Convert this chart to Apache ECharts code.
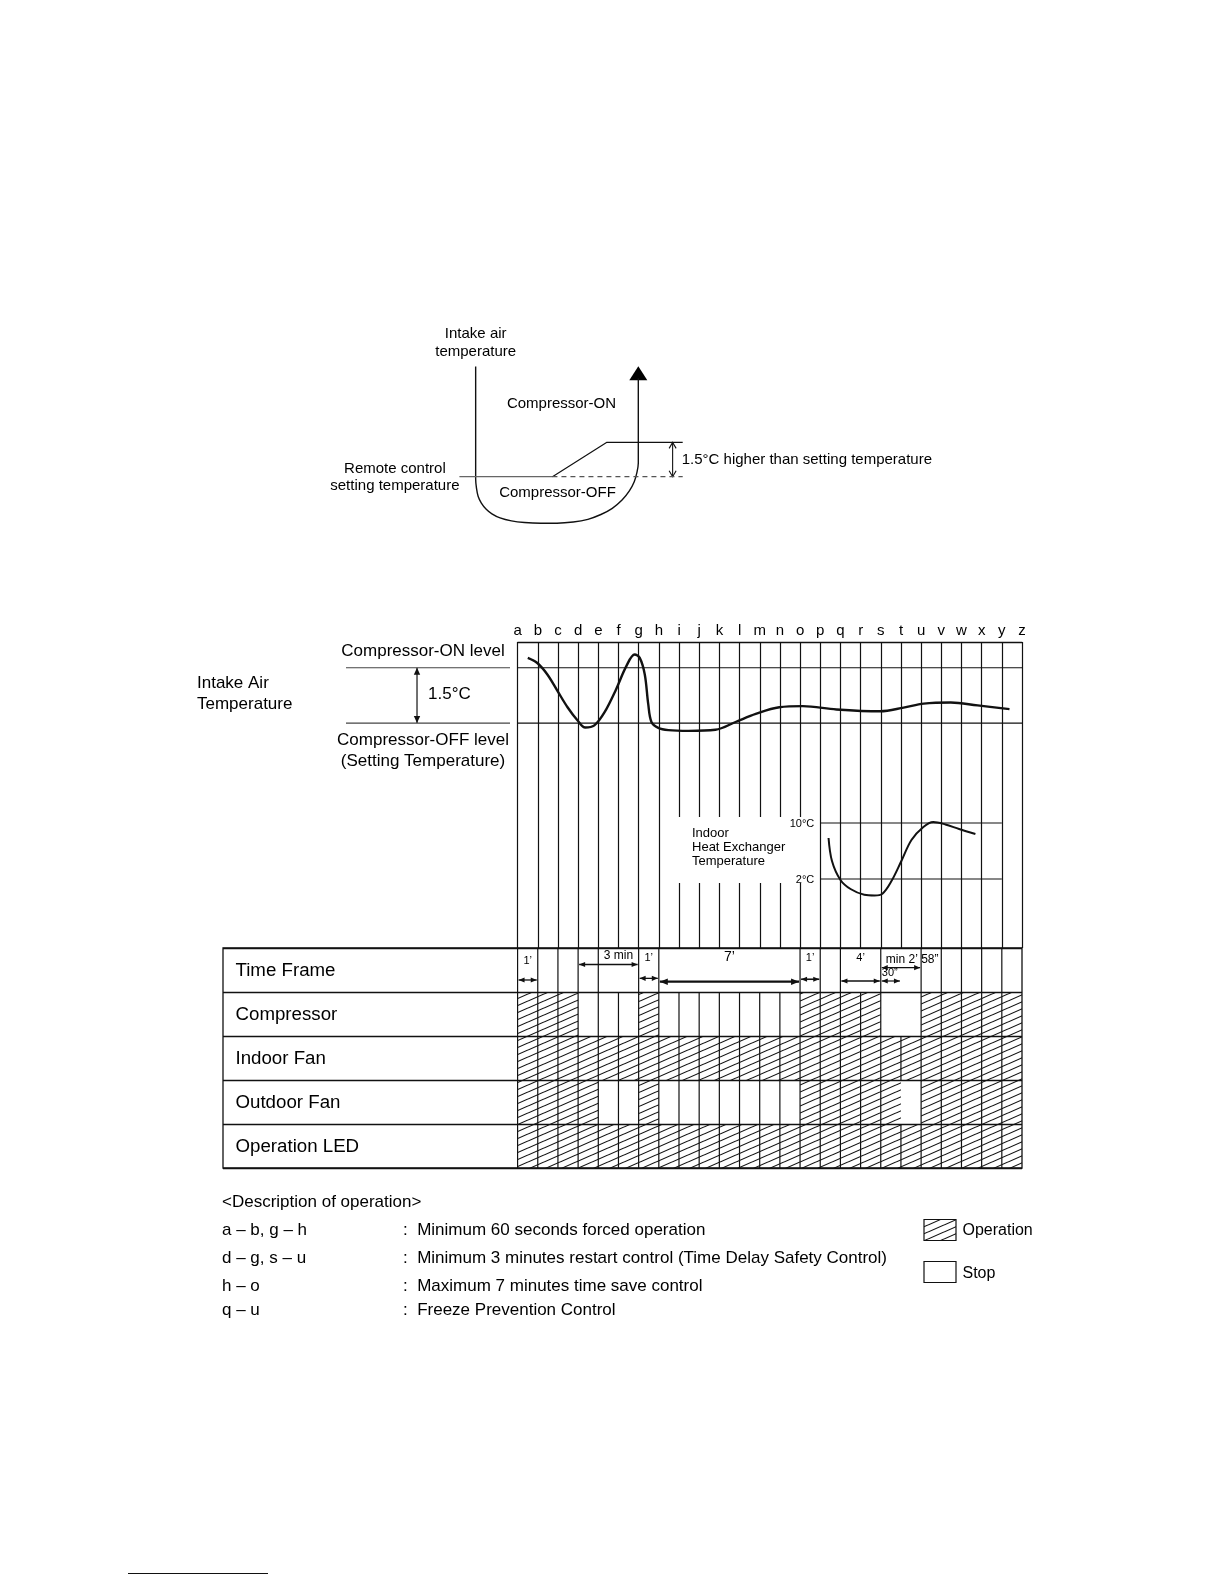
<!DOCTYPE html>
<html>
<head>
<meta charset="utf-8">
<title>Compressor operation timing</title>
<script src="https://cdn.jsdelivr.net/npm/echarts@6/dist/echarts.min.js"></script>
<style>
  html, body { margin: 0; padding: 0; background: #fff; }
  #chart { width: 1224px; height: 1584px; }
</style>
</head>
<body>
<div id="chart"></div>
<script>
const FONT = '"Liberation Sans", Arial, sans-serif';
const INK = '#111';

// ---- data ----
const letters = ['a','b','c','d','e','f','g','h','i','j','k','l','m','n','o','p','q','r','s','t','u','v','w','x','y','z'];

// intake air temperature, degC above setting temperature (x = letter steps from a)
const intakeX = [0.5, 0.97, 1.47, 1.97, 2.47, 2.97, 3.35, 3.8, 4.3, 4.88, 5.38, 5.8, 6.05, 6.3, 6.47, 6.63, 6.97, 7.47, 8.47, 9.8, 10.8, 11.8, 12.97, 14.13, 15.8, 17.97, 19.13, 20.13, 21.47, 22.8, 24.38];
const intakeT = [1.77, 1.63, 1.32, 0.875, 0.43, 0.07, -0.12, -0.06, 0.29, 0.92, 1.54, 1.86, 1.77, 1.32, 0.52, 0.03, -0.13, -0.19, -0.21, -0.18, 0.03, 0.25, 0.43, 0.46, 0.37, 0.32, 0.42, 0.53, 0.56, 0.48, 0.38];
const levelOn = 1.5;
const levelOff = 0;

// indoor heat exchanger temperature, degC
const hexX = [15.41, 15.58, 16.0, 16.5, 17.18, 17.69, 18.08, 18.53, 19.02, 19.52, 20.11, 20.6, 21.2, 21.88, 22.69];
const hexT = [7.86, 4.57, 1.86, 0.57, -0.25, -0.35, -0.1, 1.71, 4.57, 7.57, 9.43, 10.14, 9.79, 9.14, 8.43];
const hexLevels = [10, 2];
const hexLevelText = ['10°C', '2°C'];
const hexFrom = 15; // p
const hexTo = 24;   // y

// table rows: one flag per interval a-b ... y-z (1 = operation, 0 = stop)
const rowNames = ['Time Frame', 'Compressor', 'Indoor Fan', 'Outdoor Fan', 'Operation LED'];
const compressor   = [1,1,1,0,0,0,1,0,0,0,0,0,0,0,1,1,1,1,0,0,1,1,1,1,1];
const indoorFan    = [1,1,1,1,1,1,1,1,1,1,1,1,1,1,1,1,1,1,1,1,1,1,1,1,1];
const outdoorFan   = [1,1,1,1,0,0,1,0,0,0,0,0,0,0,1,1,1,1,1,0,1,1,1,1,1];
const operationLed = [1,1,1,1,1,1,1,1,1,1,1,1,1,1,1,1,1,1,1,1,1,1,1,1,1];
// letter lines that are not drawn inside each row
const lineGaps = [[5, 8, 9, 10, 11, 12, 13, 17, 19], [19], [], [19], []];

// time frame spans (letter index) and texts
const spanFrom = [0, 3, 6, 7, 14, 16, 18, 18];
const spanTo   = [1, 6, 7, 14, 15, 18, 20, 19];
const spanText = ['1’', '3 min', '1’', '7’', '1’', '4’', 'min 2’ 58”', '30”'];

// schematic: intake air temperature vs compressor state
const bowlX = [0, 0, 0.05, 0.15, 0.35, 0.65, 1.0, 1.5, 2.2, 3.0, 4.0, 5.0, 6.0, 6.9, 7.7, 8.4, 9.0, 9.45, 9.75, 9.92, 10, 10];
const bowlY = [4.81, -0.1, -0.5, -0.85, -1.15, -1.42, -1.62, -1.8, -1.93, -2.0, -2.03, -2.03, -1.98, -1.86, -1.65, -1.38, -1.02, -0.62, -0.22, 0.2, 0.6, 4.3];
const settingX = [-1, 4.72];
const riseX = [4.72, 8.07, 12.73];
const riseY = [0, 1.5, 1.5];
const dashX = [4.72, 12.73];

const descKeys = ['a – b, g – h', 'd – g, s – u', 'h – o', 'q – u'];
const descTexts = [
  'Minimum 60 seconds forced operation',
  'Minimum 3 minutes restart control (Time Delay Safety Control)',
  'Maximum 7 minutes time save control',
  'Freeze Prevention Control'
];

// ---- layout of the time frame labels ----
const spanArrowY = [0.727, 0.375, 0.69, 0.766, 0.71, 0.75, 0.448, 0.75];
const spanLabelX = [0.5, 5, 6.5, 10.5, 14.5, 17, 18.25, 18.05];
const spanLabelY = [0.3, 0.18, 0.235, 0.21, 0.235, 0.22, 0.26, 0.575];
const spanAlign = ['center', 'center', 'center', 'center', 'center', 'center', 'left', 'left'];
const spanFont = [11, 12, 11, 14, 11, 11, 12, 11];
const spanWidth = [1.3, 1.3, 1.3, 2.2, 1.6, 1.6, 1.2, 1.2];
const descY = [1230, 1258.4, 1286.7, 1310];

// hatch pattern for "operation"
function hatchCanvas() {
  const c = document.createElement('canvas');
  const w = 16, h = 7;
  c.width = w; c.height = h;
  const g = c.getContext('2d');
  g.strokeStyle = '#111';
  g.lineWidth = 1.1;
  for (let k = -1; k <= 1; k++) {
    g.beginPath();
    g.moveTo(0, h + k * h);
    g.lineTo(w, k * h);
    g.stroke();
  }
  return c;
}
const hatch = { image: hatchCanvas(), repeat: 'repeat' };

function arrowGroup(p1, p2, head, half, filled, width) {
  const dx = p2[0] - p1[0], dy = p2[1] - p1[1];
  const len = Math.hypot(dx, dy) || 1;
  const ux = dx / len, uy = dy / len, nx = -uy, ny = ux;
  const children = [{ type: 'line', shape: { x1: p1[0], y1: p1[1], x2: p2[0], y2: p2[1] }, style: { stroke: INK, lineWidth: width } }];
  [[p2, 1], [p1, -1]].forEach(function (e) {
    const p = e[0], s = e[1];
    const bx = p[0] - s * ux * head, by = p[1] - s * uy * head;
    const pts = [[bx + nx * half, by + ny * half], [p[0], p[1]], [bx - nx * half, by - ny * half]];
    children.push(filled
      ? { type: 'polygon', shape: { points: pts }, style: { fill: INK } }
      : { type: 'polyline', shape: { points: pts }, style: { stroke: INK, lineWidth: width, fill: null } });
  });
  return { type: 'group', children: children };
}

function pairs(xs, ys) { return xs.map(function (x, i) { return [x, ys[i]]; }); }

function plainLine(idx, data, extra) {
  return Object.assign({
    type: 'line', xAxisIndex: idx, yAxisIndex: idx, data: data,
    showSymbol: false, symbol: 'none', silent: true,
    lineStyle: { color: INK, width: 1.2 }
  }, extra || {});
}

function textSeries(idx, xs, ys, texts, styleOf, dx, dy) {
  return {
    type: 'custom', xAxisIndex: idx, yAxisIndex: idx, silent: true, z: 6,
    data: xs.map(function (x, i) { return [x, ys[i], i]; }),
    renderItem: function (params, api) {
      const i = api.value(2);
      const p = api.coord([api.value(0), api.value(1)]);
      return {
        type: 'text', x: p[0] + (dx || 0), y: p[1] + (dy || 0),
        style: Object.assign({ text: texts[i], fill: '#000', fontFamily: FONT }, styleOf(i))
      };
    }
  };
}

function label(text, x, y, size, align) {
  return { type: 'text', x: x, y: y, style: { text: text, fontSize: size, fontFamily: FONT, fill: '#000', align: align || 'left', verticalAlign: 'middle' } };
}

// ---- table series data ----
const rowFlags = [null, compressor, indoorFan, outdoorFan, operationLed];
const cellData = [];
rowFlags.forEach(function (flags, r) {
  if (!flags) return;
  flags.forEach(function (on, k) { if (on) cellData.push([k, r]); });
});
const lineData = [];
for (let r = 0; r < rowNames.length; r++) {
  for (let k = 0; k < letters.length - 1; k++) {
    if (lineGaps[r].indexOf(k) < 0) lineData.push([k, r]);
  }
}

const chart = echarts.init(document.getElementById('chart'), null, { renderer: 'canvas' });

const hidden = { show: false };
const option = {
  animation: false,
  backgroundColor: '#fff',
  grid: [
    { left: 459.4, top: 362.2, width: 227.7, height: 164.9 },   // schematic
    { left: 517.7, top: 642, width: 504.3, height: 306 },       // intake air temperature
    { left: 517.7, top: 802, width: 504.3, height: 98 },        // heat exchanger temperature
    { left: 346, top: 642, width: 164, height: 306 },           // level notes
    { left: 223, top: 948, width: 799, height: 220, show: true, borderColor: INK, borderWidth: 1.3 } // table
  ],
  xAxis: [
    { gridIndex: 0, type: 'value', min: -1, max: 13, show: false },
    {
      gridIndex: 1, type: 'value', min: 0, max: 25, interval: 1, position: 'top',
      axisLine: { show: true, onZero: false, lineStyle: { color: INK, width: 1.3 } },
      axisTick: { show: false },
      axisLabel: { formatter: function (v) { return letters[v] || ''; }, fontSize: 15, fontFamily: FONT, color: '#000', margin: 4, lineHeight: 15 },
      splitLine: { show: true, lineStyle: { color: INK, width: 1.2 } }
    },
    { gridIndex: 2, type: 'value', min: 0, max: 25, show: false },
    { gridIndex: 3, type: 'value', min: 0, max: 1, show: false },
    { gridIndex: 4, type: 'value', min: -14.6, max: 25, show: false }
  ],
  yAxis: [
    { gridIndex: 0, type: 'value', min: -2.2, max: 5, show: false },
    { gridIndex: 1, type: 'value', min: -6.1, max: 2.2, show: false },
    { gridIndex: 2, type: 'value', min: -1, max: 13, show: false },
    { gridIndex: 3, type: 'value', min: -6.1, max: 2.2, show: false },
    {
      gridIndex: 4, type: 'value', min: 0, max: 5, interval: 1, inverse: true,
      axisLine: hidden, axisTick: hidden, axisLabel: hidden,
      splitLine: { show: true, lineStyle: { color: INK, width: 1.3 } }
    }
  ],
  series: [
    // schematic
    plainLine(0, pairs(bowlX, bowlY), { smooth: 0.25, lineStyle: { color: INK, width: 1.4 } }),
    {
      type: 'scatter', xAxisIndex: 0, yAxisIndex: 0, silent: true,
      data: [[10, 4.52]], symbol: 'triangle', symbolSize: [18, 14],
      itemStyle: { color: '#000', opacity: 1 }
    },
    plainLine(0, pairs(settingX, [0, 0]), { lineStyle: { color: '#666', width: 1.3 } }),
    plainLine(0, pairs(riseX, riseY), { lineStyle: { color: INK, width: 1.2 } }),
    plainLine(0, pairs(dashX, [0, 0]), { lineStyle: { color: '#555', width: 1.2, type: [5, 4] } }),
    {
      type: 'custom', xAxisIndex: 0, yAxisIndex: 0, silent: true,
      data: [[12.11, 0, 12.11, 1.5]],
      renderItem: function (params, api) {
        return arrowGroup(api.coord([api.value(0), api.value(1)]), api.coord([api.value(2), api.value(3)]), 6, 3.5, false, 1.1);
      }
    },

    // intake air temperature
    plainLine(1, pairs(intakeX, intakeT), { smooth: 0.35, lineStyle: { color: INK, width: 2.4 }, z: 4 }),
    plainLine(1, [[0, levelOn], [25, levelOn]], { lineStyle: { color: INK, width: 1.1 } }),
    plainLine(1, [[0, levelOff], [25, levelOff]], { lineStyle: { color: INK, width: 1.1 } }),

    // level notes at the left
    plainLine(3, [[0, levelOn], [1, levelOn]], { lineStyle: { color: '#444', width: 1.1 } }),
    plainLine(3, [[0, levelOff], [1, levelOff]], { lineStyle: { color: '#444', width: 1.1 } }),
    {
      type: 'custom', xAxisIndex: 3, yAxisIndex: 3, silent: true,
      data: [[0.433, levelOff, 0.433, levelOn]],
      renderItem: function (params, api) {
        return arrowGroup(api.coord([api.value(0), api.value(1)]), api.coord([api.value(2), api.value(3)]), 7, 3.2, true, 1.2);
      }
    },

    // heat exchanger temperature
    plainLine(2, pairs(hexX, hexT), {
      smooth: 0.35, lineStyle: { color: INK, width: 2.0 }, z: 4,
      markArea: {
        silent: true,
        itemStyle: { color: '#fff', opacity: 1 },
        label: {
          show: true, position: [21, 9], formatter: 'Indoor\nHeat Exchanger\nTemperature',
          fontSize: 13, lineHeight: 14, color: '#000', fontFamily: FONT
        },
        data: [[{ coord: [7.6, 10.86] }, { coord: [14.6, 1.43] }]]
      }
    }),
    plainLine(2, [[hexFrom, hexLevels[0]], [hexTo, hexLevels[0]]], { lineStyle: { color: INK, width: 1.2 } }),
    plainLine(2, [[hexFrom, hexLevels[1]], [hexTo, hexLevels[1]]], { lineStyle: { color: INK, width: 1.2 } }),
    textSeries(2, [hexFrom, hexFrom], hexLevels, hexLevelText, function () {
      return { fontSize: 11, align: 'right', verticalAlign: 'middle' };
    }, -6, 1),

    // table cells
    {
      type: 'custom', xAxisIndex: 4, yAxisIndex: 4, silent: true, z: 2,
      data: cellData,
      renderItem: function (params, api) {
        const k = api.value(0), r = api.value(1);
        const p0 = api.coord([k, r]), p1 = api.coord([k + 1, r + 1]);
        return { type: 'rect', shape: { x: p0[0], y: p0[1], width: p1[0] - p0[0], height: p1[1] - p0[1] }, style: { fill: hatch } };
      }
    },
    // table letter lines
    {
      type: 'custom', xAxisIndex: 4, yAxisIndex: 4, silent: true, z: 3,
      data: lineData,
      renderItem: function (params, api) {
        const k = api.value(0), r = api.value(1);
        const p0 = api.coord([k, r]), p1 = api.coord([k, r + 1]);
        return { type: 'line', shape: { x1: p0[0], y1: p0[1], x2: p1[0], y2: p1[1] }, style: { stroke: INK, lineWidth: 1.2 } };
      }
    },
    // row names
    textSeries(4, rowNames.map(function () { return -14.6; }), rowNames.map(function (n, r) { return r + 0.5; }), rowNames, function () {
      return { fontSize: 18.7, align: 'left', verticalAlign: 'middle' };
    }, 12.5, 1),
    // time frame arrows
    {
      type: 'custom', xAxisIndex: 4, yAxisIndex: 4, silent: true, z: 5,
      data: spanFrom.map(function (f, i) { return [f, spanTo[i], i]; }),
      renderItem: function (params, api) {
        const i = api.value(2);
        const a = api.coord([api.value(0), spanArrowY[i]]);
        const b = api.coord([api.value(1), spanArrowY[i]]);
        const big = spanWidth[i] > 2;
        return arrowGroup([a[0] + 1, a[1]], [b[0] - 1, b[1]], big ? 8 : 6, big ? 3.2 : 2.6, true, spanWidth[i]);
      }
    },
    textSeries(4, spanLabelX, spanLabelY, spanText, function (i) {
      return { fontSize: spanFont[i], align: spanAlign[i], verticalAlign: 'middle' };
    }, 0, 0)
  ],
  graphic: [
    // schematic texts
    label('Intake air', 475.7, 334, 15, 'center'),
    label('temperature', 475.7, 351.5, 15, 'center'),
    label('Compressor-ON', 561.5, 404, 15, 'center'),
    label('Compressor-OFF', 557.5, 492.8, 15, 'center'),
    label('Remote control', 394.9, 468.6, 15, 'center'),
    label('setting temperature', 394.9, 485.8, 15, 'center'),
    label('1.5°C higher than setting temperature', 681.7, 459.5, 15),

    // timing chart notes
    label('Intake Air', 197, 683.7, 17),
    label('Temperature', 197, 704.5, 17),
    label('Compressor-ON level', 423, 651.5, 17, 'center'),
    label('1.5°C', 428, 694, 17),
    label('Compressor-OFF level', 423, 740, 17, 'center'),
    label('(Setting Temperature)', 423, 761.5, 17, 'center'),

    // description
    label('<Description of operation>', 222, 1202, 17)
  ].concat(descKeys.map(function (k, i) {
    return label(k, 222, descY[i], 17);
  })).concat(descTexts.map(function (t, i) {
    return label(':  ' + t, 403, descY[i], 17);
  })).concat([
    // legend
    { type: 'rect', shape: { x: 924, y: 1219.5, width: 32, height: 21 }, style: { fill: hatch, stroke: INK, lineWidth: 1.2 } },
    label('Operation', 962.5, 1230.5, 16),
    { type: 'rect', shape: { x: 924, y: 1261.5, width: 32, height: 21 }, style: { fill: '#fff', stroke: INK, lineWidth: 1.2 } },
    label('Stop', 962.5, 1273.5, 16),
    // footnote rule
    { type: 'line', shape: { x1: 128, y1: 1573.5, x2: 268, y2: 1573.5 }, style: { stroke: INK, lineWidth: 1.2 } }
  ])
};

chart.setOption(option);
</script>
</body>
</html>
